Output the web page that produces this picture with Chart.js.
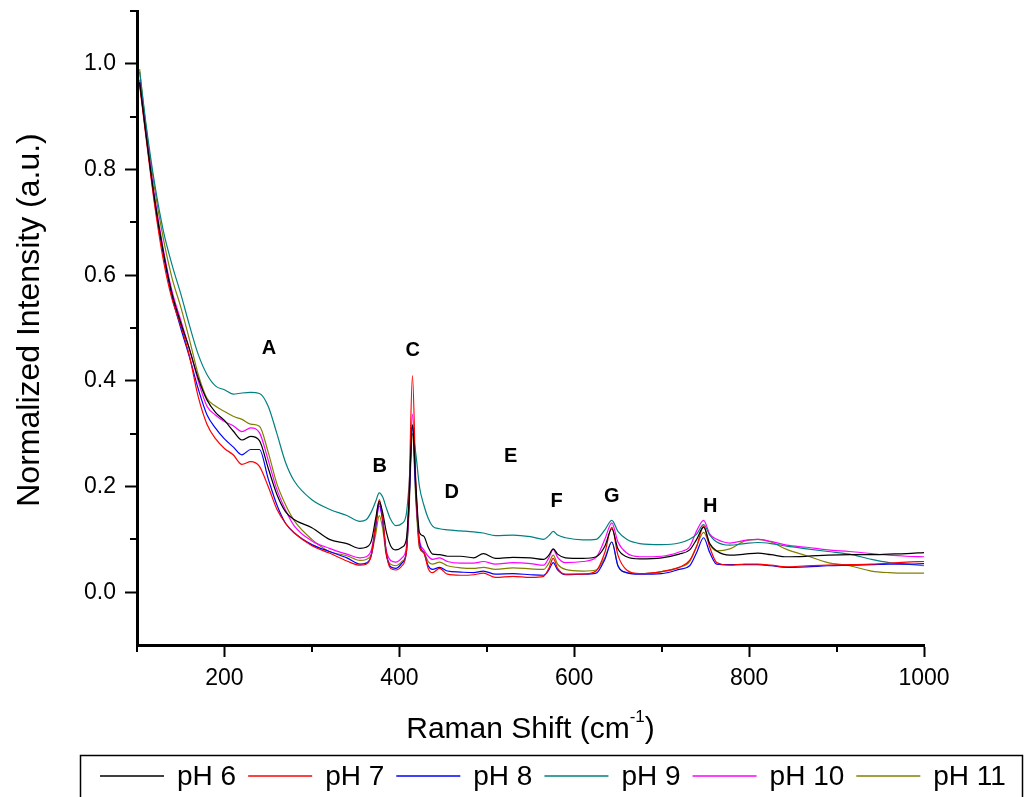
<!DOCTYPE html>
<html><head><meta charset="utf-8">
<script src="https://cdn.jsdelivr.net/npm/chart.js@4/dist/chart.umd.min.js"></script>
<style>html,body{margin:0;padding:0;background:#fff}#c{display:block}</style>
</head><body>
<canvas id="c" width="1026" height="797"></canvas>
<script>
const wavenumber = [103,110,120,130,140,150,160,170,180,190,200,210,220,230,240,250,260,270,280,300,320,340,355,362,368,373,377,381,385,390,396,403,408,411,415,419,423,428,433,438,446,455,470,485,496,510,530,550,565,571,576,581,590,610,625,635,643,650,660,675,700,720,732,740,748,755,763,778,795,810,825,843,866,890,915,940,960,980,1000];

const ph6 = [0.965,0.87,0.745,0.645,0.565,0.51,0.46,0.405,0.364,0.34,0.325,0.305,0.288,0.295,0.287,0.235,0.185,0.152,0.137,0.122,0.1,0.092,0.083,0.085,0.097,0.14,0.172,0.15,0.115,0.088,0.08,0.085,0.1,0.17,0.317,0.2,0.113,0.106,0.085,0.072,0.071,0.068,0.068,0.065,0.073,0.064,0.066,0.065,0.062,0.07,0.082,0.072,0.065,0.064,0.067,0.087,0.12,0.082,0.067,0.063,0.065,0.072,0.08,0.1,0.123,0.092,0.078,0.07,0.072,0.074,0.071,0.067,0.068,0.07,0.071,0.071,0.072,0.073,0.075];

const ph7 = [0.96,0.865,0.735,0.63,0.555,0.505,0.447,0.37,0.318,0.29,0.272,0.26,0.242,0.247,0.238,0.2,0.157,0.13,0.112,0.088,0.074,0.059,0.051,0.053,0.07,0.13,0.175,0.14,0.075,0.045,0.042,0.05,0.075,0.18,0.41,0.2,0.087,0.075,0.045,0.037,0.045,0.034,0.032,0.033,0.036,0.028,0.03,0.028,0.03,0.045,0.064,0.045,0.034,0.034,0.04,0.075,0.123,0.07,0.042,0.035,0.039,0.047,0.06,0.087,0.125,0.085,0.056,0.051,0.053,0.053,0.051,0.048,0.05,0.051,0.052,0.053,0.055,0.057,0.058];

const ph8 = [0.965,0.87,0.74,0.64,0.56,0.5,0.445,0.385,0.336,0.31,0.29,0.275,0.26,0.27,0.27,0.215,0.165,0.13,0.112,0.09,0.077,0.065,0.053,0.055,0.07,0.125,0.168,0.135,0.075,0.048,0.045,0.055,0.075,0.16,0.314,0.18,0.094,0.075,0.05,0.043,0.047,0.04,0.038,0.037,0.04,0.034,0.035,0.033,0.032,0.042,0.056,0.042,0.033,0.034,0.036,0.062,0.095,0.05,0.037,0.034,0.035,0.043,0.05,0.075,0.103,0.075,0.053,0.052,0.052,0.052,0.05,0.047,0.048,0.05,0.051,0.052,0.053,0.053,0.054];

const ph9 = [0.985,0.89,0.775,0.685,0.62,0.565,0.505,0.45,0.412,0.39,0.383,0.375,0.377,0.378,0.376,0.352,0.3,0.245,0.21,0.175,0.157,0.145,0.134,0.137,0.152,0.172,0.188,0.18,0.16,0.138,0.126,0.13,0.148,0.2,0.3,0.26,0.2,0.165,0.14,0.125,0.12,0.118,0.116,0.114,0.112,0.107,0.108,0.105,0.1,0.107,0.115,0.108,0.103,0.099,0.1,0.118,0.136,0.115,0.1,0.092,0.09,0.093,0.1,0.11,0.128,0.108,0.095,0.089,0.092,0.094,0.092,0.087,0.082,0.077,0.072,0.062,0.056,0.053,0.05];

const ph10 = [0.97,0.875,0.75,0.65,0.57,0.515,0.46,0.4,0.352,0.335,0.323,0.315,0.304,0.311,0.302,0.25,0.194,0.155,0.125,0.097,0.083,0.072,0.065,0.067,0.08,0.125,0.163,0.135,0.08,0.06,0.057,0.065,0.085,0.17,0.337,0.19,0.1,0.08,0.068,0.062,0.065,0.058,0.055,0.055,0.058,0.053,0.056,0.054,0.051,0.065,0.081,0.066,0.056,0.058,0.066,0.1,0.131,0.095,0.074,0.067,0.068,0.076,0.086,0.116,0.136,0.11,0.1,0.093,0.098,0.1,0.096,0.089,0.085,0.08,0.077,0.073,0.07,0.068,0.067];

const ph11 = [0.99,0.885,0.765,0.67,0.595,0.54,0.478,0.412,0.367,0.352,0.342,0.333,0.327,0.318,0.314,0.265,0.205,0.165,0.135,0.1,0.077,0.069,0.06,0.062,0.072,0.11,0.145,0.12,0.07,0.053,0.05,0.058,0.075,0.15,0.3,0.17,0.084,0.075,0.058,0.053,0.057,0.05,0.046,0.045,0.047,0.043,0.046,0.044,0.043,0.055,0.07,0.053,0.043,0.04,0.042,0.065,0.095,0.05,0.037,0.035,0.039,0.047,0.058,0.087,0.113,0.09,0.078,0.082,0.097,0.1,0.095,0.081,0.069,0.056,0.05,0.04,0.037,0.036,0.036];

const seriesLabels = ['pH 6','pH 7','pH 8','pH 9','pH 10','pH 11'];
const seriesColors = ['#000000','#FF0000','#0000FF','#008080','#FF00FF','#808000'];
const seriesValues = [ph6, ph7, ph8, ph9, ph10, ph11];

const xTicks = [200,400,600,800,1000];
const xMinorTicks = [100,300,500,700,900];
const yTicks = [0.0,0.2,0.4,0.6,0.8,1.0];
const yMinorTicks = [0.1,0.3,0.5,0.7,0.9,1.1];

const peakLabels = ['A','B','C','D','E','F','G','H'];
const peakX = [251,377.7,415.4,460,527.4,580,642.9,755.4];
const peakY = [0.462,0.238,0.457,0.189,0.256,0.172,0.181,0.162];

const FAM = '"Liberation Sans", Arial, Helvetica, sans-serif';

const datasets = seriesValues.map((vals, i) => ({
  label: seriesLabels[i],
  data: wavenumber.map((x, j) => ({x: x, y: vals[j]})),
  borderColor: seriesColors[i],
  backgroundColor: seriesColors[i],
  borderWidth: 1.2,
  pointRadius: 0,
  fill: false,
  cubicInterpolationMode: 'monotone'
}));

const extras = {
  id: 'extras',
  afterDraw(chart) {
    const {ctx, chartArea: a, scales: {x, y}} = chart;
    ctx.save();
    // minor ticks
    ctx.strokeStyle = '#000';
    ctx.lineWidth = 2;
    xMinorTicks.forEach(v => {
      const px = Math.round(x.getPixelForValue(v));
      ctx.beginPath(); ctx.moveTo(px, a.bottom); ctx.lineTo(px, a.bottom + 7); ctx.stroke();
    });
    yMinorTicks.forEach(v => {
      const py = Math.round(y.getPixelForValue(v));
      ctx.beginPath(); ctx.moveTo(a.left, py); ctx.lineTo(a.left - 7, py); ctx.stroke();
    });
    // peak labels
    ctx.fillStyle = '#000';
    ctx.font = 'bold 20px ' + FAM;
    ctx.textAlign = 'center';
    ctx.textBaseline = 'middle';
    peakLabels.forEach((t, i) => {
      ctx.fillText(t, x.getPixelForValue(peakX[i]), y.getPixelForValue(peakY[i]));
    });
    // x title with superscript
    const cx = (a.left + a.right) / 2;
    const ty = 730;
    ctx.font = '30px ' + FAM;
    const p1 = 'Raman Shift (cm', sup = '-1', p2 = ')';
    const w1 = ctx.measureText(p1).width;
    const w3 = ctx.measureText(p2).width;
    ctx.font = '17px ' + FAM;
    const w2 = ctx.measureText(sup).width;
    let sx = cx - (w1 + w2 + w3) / 2;
    ctx.textAlign = 'left';
    ctx.font = '30px ' + FAM;
    ctx.fillText(p1, sx, ty);
    ctx.font = '17px ' + FAM;
    ctx.fillText(sup, sx + w1, ty - 13);
    ctx.font = '30px ' + FAM;
    ctx.fillText(p2, sx + w1 + w2, ty);
    // y title
    ctx.save();
    ctx.translate(30, 320);
    ctx.rotate(-Math.PI / 2);
    ctx.textAlign = 'center';
    ctx.font = '32px ' + FAM;
    ctx.fillText('Normalized Intensity (a.u.)', 0, 0);
    ctx.restore();
    // legend
    ctx.lineWidth = 1.5;
    ctx.strokeStyle = '#000';
    ctx.strokeRect(80.5, 755.5, 942, 60);
    ctx.font = '28px ' + FAM;
    ctx.textAlign = 'left';
    ctx.textBaseline = 'middle';
    let lx = 100;
    const ly = 776;
    chart.data.datasets.forEach(ds => {
      ctx.strokeStyle = ds.borderColor;
      ctx.lineWidth = 1.5;
      ctx.beginPath(); ctx.moveTo(lx, ly); ctx.lineTo(lx + 64, ly); ctx.stroke();
      ctx.fillStyle = '#000';
      ctx.fillText(ds.label, lx + 77, ly + 1);
      lx += 77 + ctx.measureText(ds.label).width + 12;
    });
    ctx.restore();
  }
};

new Chart(document.getElementById('c'), {
  type: 'line',
  data: {datasets: datasets},
  options: {
    responsive: false,
    animation: false,
    layout: {padding: {top: 11, right: 102, bottom: 50, left: 0}},
    plugins: {legend: {display: false}, tooltip: {enabled: false}},
    scales: {
      x: {
        type: 'linear', min: 100, max: 1000,
        afterFit(s) { s.height = 102; s.paddingLeft = 0; s.paddingRight = 0; },
        afterBuildTicks(s) { s.ticks = xTicks.map(v => ({value: v})); },
        ticks: {color: '#000', font: {size: 23, family: FAM}, padding: 8, maxRotation: 0, autoSkip: false,
                callback: v => String(v)},
        grid: {display: true, drawOnChartArea: false, drawTicks: true, tickLength: 12, tickWidth: 2, tickColor: '#000'},
        border: {display: true, color: '#000', width: 3}
      },
      y: {
        type: 'linear', min: -0.1, max: 1.1,
        afterFit(s) { s.width = 137; s.paddingTop = 0; s.paddingBottom = 0; },
        afterBuildTicks(s) { s.ticks = yTicks.map(v => ({value: v})); },
        ticks: {color: '#000', font: {size: 23, family: FAM}, padding: 9, autoSkip: false,
                callback: v => Number(v).toFixed(1)},
        grid: {display: true, drawOnChartArea: false, drawTicks: true, tickLength: 12, tickWidth: 2, tickColor: '#000'},
        border: {display: true, color: '#000', width: 3}
      }
    }
  },
  plugins: [extras]
});
</script>
</body></html>
